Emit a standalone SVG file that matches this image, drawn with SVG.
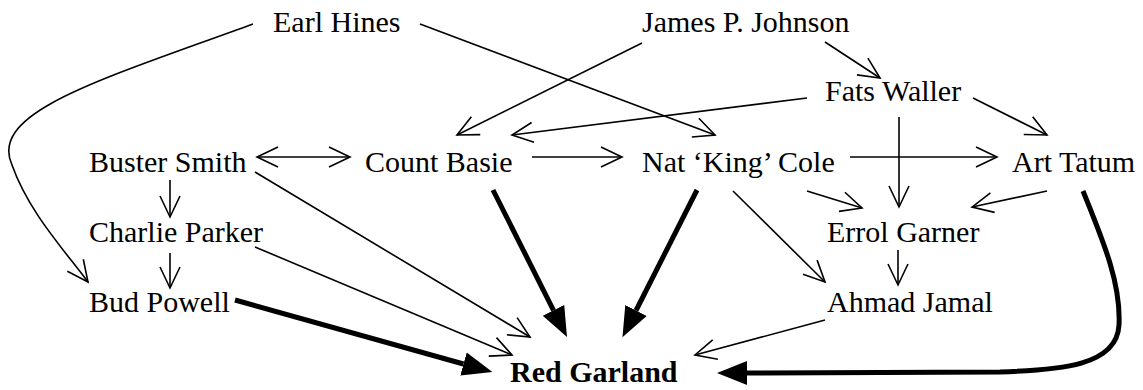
<svg xmlns="http://www.w3.org/2000/svg" width="1143" height="390" viewBox="0 0 1143 390">
  <style>
    .label { font-family: "Liberation Serif", "Times New Roman", serif; font-size: 30px; fill: #000; }
    .bold { font-weight: bold; }
    .thin { fill: none; stroke: #000; stroke-width: 1.6; marker-end: url(#open); }
    .thick { fill: none; stroke: #000; stroke-width: 5; marker-end: url(#solid); }
  </style>
  <defs>
    <!-- open V head: tip sits on the end of the path -->
    <marker id="open" viewBox="-24 -12 26 24" refX="0" refY="0" markerWidth="26" markerHeight="24" markerUnits="userSpaceOnUse" orient="auto-start-reverse">
      <path d="M-21,-10 L0,0 L-21,10" fill="none" stroke="#000" stroke-width="1.6"/>
    </marker>
    <!-- filled head: base sits on the end of the path, tip extends 30px beyond -->
    <marker id="solid" viewBox="0 -13 31 26" refX="0" refY="0" markerWidth="31" markerHeight="26" markerUnits="userSpaceOnUse" orient="auto">
      <path d="M0,-12 L30,0 L0,12 z" fill="#000"/>
    </marker>
  </defs>

  <g id="connectors">
    <!-- thin influences -->
    <path class="thin" d="M253,24 C100,80 -12,112 12,165 C28,210 60,245 88,282"/>
    <path class="thin" d="M420,24 L715,135"/>
    <path class="thin" d="M642,43 L457,135"/>
    <path class="thin" d="M825,42 L880,78"/>
    <path class="thin" d="M807,98 L512,135"/>
    <path class="thin" d="M973,98 L1047,135"/>
    <path class="thin" d="M899,117 L899,207"/>
    <path class="thin" d="M257,157 L350,157" style="marker-start:url(#open)"/>
    <path class="thin" d="M532,157 L622,157"/>
    <path class="thin" d="M850,157 L997,157"/>
    <path class="thin" d="M807,191 L862,208"/>
    <path class="thin" d="M1047,191 L972,207"/>
    <path class="thin" d="M733,191 L825,282"/>
    <path class="thin" d="M170,180 L170,217"/>
    <path class="thin" d="M170,253 L170,288"/>
    <path class="thin" d="M898,250 L898,285"/>
    <path class="thin" d="M255,172 L530,337"/>
    <path class="thin" d="M255,247 L512,355"/>
    <path class="thin" d="M825,320 L695,355"/>
    <!-- strong influences -->
    <path class="thick" d="M493,190 L553.5,310.3"/>
    <path class="thick" d="M697,190 L636,310.5"/>
    <path class="thick" d="M235,300 L463.5,364"/>
    <path class="thick" d="M1083,191 C1105,245 1121,285 1119,325 C1117,366 1060,370 1000,372 L747,373"/>
  </g>

  <g id="earl-hines"><text class="label" x="273" y="32">Earl Hines</text></g>
  <g id="james-p-johnson"><text class="label" x="642" y="32">James P. Johnson</text></g>
  <g id="fats-waller"><text class="label" x="825" y="101">Fats Waller</text></g>
  <g id="buster-smith"><text class="label" x="89" y="172">Buster Smith</text></g>
  <g id="count-basie"><text class="label" x="365" y="172">Count Basie</text></g>
  <g id="nat-king-cole"><text class="label" x="642" y="172">Nat ‘King’ Cole</text></g>
  <g id="art-tatum"><text class="label" x="1012" y="172">Art Tatum</text></g>
  <g id="charlie-parker"><text class="label" x="89" y="242">Charlie Parker</text></g>
  <g id="errol-garner"><text class="label" x="827" y="242">Errol Garner</text></g>
  <g id="bud-powell"><text class="label" x="89" y="312">Bud Powell</text></g>
  <g id="ahmad-jamal"><text class="label" x="827" y="312">Ahmad Jamal</text></g>
  <g id="red-garland"><text class="label bold" x="510" y="382">Red Garland</text></g>
</svg>
